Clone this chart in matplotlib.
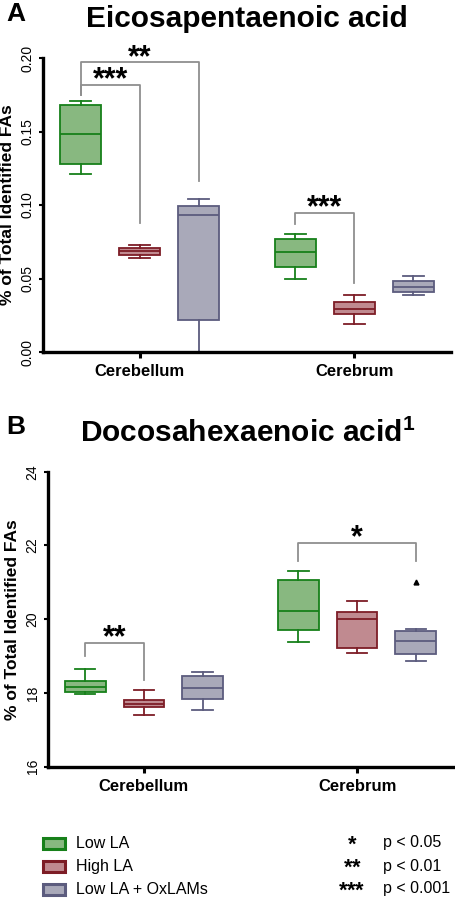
import numpy as np
import matplotlib
matplotlib.use("Agg")
import matplotlib.pyplot as plt
from matplotlib.patches import Rectangle

plt.rcParams["font.family"] = ["Liberation Sans", "DejaVu Sans"]
plt.rcParams["mathtext.fontset"] = "custom"
plt.rcParams["mathtext.rm"] = "Liberation Sans"
plt.rcParams["mathtext.bf"] = "Liberation Sans:bold"

REGIONS = ["Cerebellum", "Cerebrum"]
GROUPS = ["Low LA", "High LA", "Low LA + OxLAMs"]

# five-number summaries per group: [whislo, q1, median, q3, whishi]
EPA_CEREBELLUM = [[0.121, 0.128, 0.148, 0.168, 0.171],
                  [0.064, 0.066, 0.069, 0.071, 0.073],
                  [0.000, 0.022, 0.093, 0.099, 0.104]]
EPA_CEREBRUM = [[0.050, 0.058, 0.068, 0.077, 0.080],
                [0.019, 0.026, 0.029, 0.034, 0.039],
                [0.039, 0.041, 0.044, 0.048, 0.052]]
DHA_CEREBELLUM = [[17.97, 18.02, 18.17, 18.33, 18.66],
                  [17.39, 17.62, 17.71, 17.81, 18.07],
                  [17.55, 17.84, 18.14, 18.47, 18.57]]
DHA_CEREBRUM = [[19.39, 19.71, 20.23, 21.06, 21.31],
                [19.09, 19.21, 20.00, 20.20, 20.50],
                [18.88, 19.06, 19.41, 19.67, 19.74]]
DHA_OUTLIERS = {(1, 2): [21.0]}   # (region, group) -> values

# significance brackets: (region, group a, group b, top, left end, right end, stars)
EPA_BRACKETS = [(0, 0, 2, 0.197, 0.175, 0.116, "**"),
                (0, 0, 1, 0.1815, 0.175, 0.0877, "***"),
                (1, 0, 1, 0.0948, 0.0873, 0.0469, "***")]
DHA_BRACKETS = [(0, 0, 1, 19.35, 19.0, 18.35, "**"),
                (1, 0, 2, 22.08, 21.59, 21.59, "*")]

SIG_STARS = ["*", "**", "***"]
SIG_LABELS = ["p < 0.05", "p < 0.01", "p < 0.001"]

EDGES = ["#17801a", "#7d1d26", "#5c5c7e"]
FACES = ["#88b880", "#c08a90", "#a9a9b9"]
BRACKET_COL = "#8f8f8f"

OFFSETS = [-0.275, 0.0, 0.275]
BOX_W = 0.19
LW = 1.3


def draw_panel(ax, cerebellum, cerebrum, outliers, brackets, ylim, yticks, fmt):
    for r, summaries in enumerate([cerebellum, cerebrum]):
        for g, s in enumerate(summaries):
            stats = [dict(whislo=s[0], q1=s[1], med=s[2], q3=s[3], whishi=s[4],
                          fliers=outliers.get((r, g), []))]
            col = EDGES[g]
            ax.bxp(stats, positions=[r + OFFSETS[g]], widths=BOX_W,
                   capwidths=BOX_W * 0.5, patch_artist=True, showfliers=True,
                   boxprops=dict(facecolor=FACES[g], edgecolor=col, lw=LW),
                   medianprops=dict(color=col, lw=LW),
                   whiskerprops=dict(color=col, lw=LW),
                   capprops=dict(color=col, lw=LW),
                   flierprops=dict(marker="^", markerfacecolor="black",
                                   markeredgecolor="black", markersize=3.5))

    for r, a, b, top, yl, yr, stars in brackets:
        xa, xb = r + OFFSETS[a], r + OFFSETS[b]
        ax.plot([xa, xa, xb, xb], [yl, top, top, yr], color=BRACKET_COL,
                lw=1.3, clip_on=False, zorder=1)
        ax.annotate(stars, ((xa + xb) / 2, top), xytext=(0, -2.5),
                    textcoords="offset points", ha="center", va="baseline",
                    fontsize=22, fontweight="bold", annotation_clip=False)

    ax.set_xlim(-0.45, 1.45)
    ax.set_ylim(*ylim)
    ax.set_yticks(yticks)
    ax.set_yticklabels([fmt.format(v) for v in yticks], rotation=90,
                       va="center", fontsize=10)
    ax.set_xticks([0, 1])
    ax.set_xticklabels(REGIONS, fontsize=12, fontweight="bold")
    ax.tick_params(axis="x", length=4, width=2.2, pad=5)
    ax.tick_params(axis="y", length=3, width=1.5, pad=3)
    ax.set_ylabel("% of Total Identified FAs", fontsize=12.5, fontweight="bold",
                  labelpad=4)
    for side in ["top", "right"]:
        ax.spines[side].set_visible(False)
    for side in ["left", "bottom"]:
        ax.spines[side].set_linewidth(2.4)


fig = plt.figure(figsize=(4.55, 9.0), dpi=100)

ax_a = fig.add_axes([43 / 455, 548 / 900, 408 / 455, 294 / 900])
draw_panel(ax_a, EPA_CEREBELLUM, EPA_CEREBRUM, {}, EPA_BRACKETS,
           (0, 0.20), [0.00, 0.05, 0.10, 0.15, 0.20], "{:.2f}")

ax_b = fig.add_axes([48 / 455, 133.3 / 900, 405 / 455, 295 / 900])
draw_panel(ax_b, DHA_CEREBELLUM, DHA_CEREBRUM, DHA_OUTLIERS, DHA_BRACKETS,
           (16, 24), [16, 18, 20, 22, 24], "{:.0f}")

fig.text(6 / 455, 1 - 21 / 900, "A", fontsize=19, fontweight="bold")
fig.text(247 / 455, 1 - 27 / 900, "Eicosapentaenoic acid", fontsize=21.5,
         fontweight="bold", ha="center")
fig.text(6 / 455, 1 - 434 / 900, "B", fontsize=19, fontweight="bold")
fig.text(248 / 455, 1 - 442 / 900, r"Docosahexaenoic acid$^{\mathbf{1}}$",
         fontsize=21.5, fontweight="bold", ha="center")

# legend (stars as mathtext so their box hugs the glyphs near the bottom edge)
for i, (name, stars, plabel) in enumerate(zip(GROUPS, SIG_STARS, SIG_LABELS)):
    yc = 843 + i * 23
    fig.add_artist(Rectangle((43 / 455, 1 - (yc + 5.5) / 900), 22 / 455, 11 / 900,
                             transform=fig.transFigure, facecolor=FACES[i],
                             edgecolor=EDGES[i], lw=2.2))
    fig.text(76 / 455, 1 - yc / 900, name, fontsize=11.5, va="center")
    star_tex = "$" + "".join("{\\mathbf{*}}" for _ in stars) + "$"
    fig.text(352 / 455, 1 - (yc + 6.5) / 900, star_tex, fontsize=15.5,
             ha="center", va="baseline")
    fig.text(383 / 455, 1 - yc / 900, plabel, fontsize=11.5, va="center")

fig.savefig("out.png", dpi=100)
